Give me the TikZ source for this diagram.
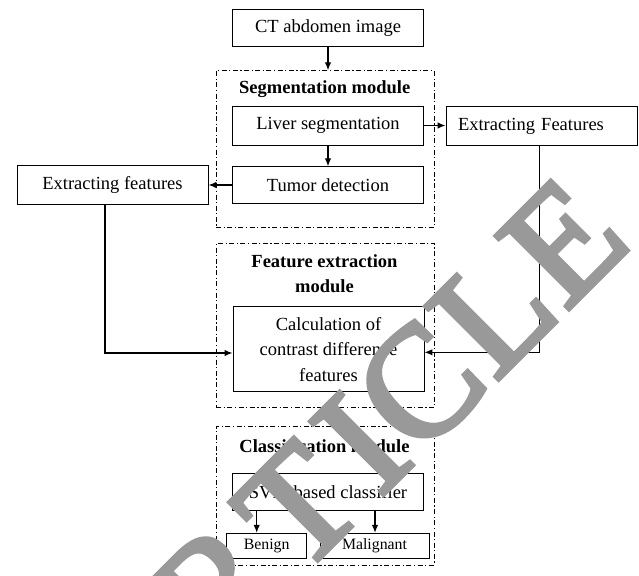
\documentclass[tikz,border=0pt]{standalone}
\usepackage{fontspec}
\setmainfont{Liberation Serif}
\newfontfamily\wmfont{Liberation Serif}[FakeBold=3]
\usepackage{tikz}
\usetikzlibrary{arrows.meta,positioning,calc}

\begin{document}
\begin{tikzpicture}[
  x=1pt, y=-1pt,
  every node/.style={font=\fontsize{18.5}{25.5}\selectfont},
  blk/.style={draw, line width=0.9pt, inner sep=2pt, minimum width=191pt, minimum height=37pt, align=center},
  small/.style={blk, minimum height=25pt, font=\fontsize{15.8}{19}\selectfont},
  modbox/.style={draw, line width=0.8pt, dash pattern=on 5pt off 2.5pt on 1.2pt off 2.5pt, minimum width=218pt},
  title/.style={font=\fontsize{18.5}{25}\selectfont\bfseries, align=center},
  arr/.style={-{Latex[length=8pt,width=6.5pt]}, line width=1.3pt},
  wmark/.style={font=\wmfont\fontsize{158}{158}\selectfont, text=black!40, inner sep=0pt}
]
\useasboundingbox (0,0) rectangle (639,575);

%% Input
\node[blk] (ct) at (328,28.3) {CT abdomen image};

%% Segmentation module
\node[modbox, minimum height=157pt] (segmod) at (325,149.2) {};
\node[title] (segtitle) at (324.7,89) {Segmentation module};
\node[blk, minimum height=39pt] (liver) at (328,125.5) {Liver segmentation};
\node[blk, minimum height=36.3pt] (tumor) at (328,185) {Tumor detection};
\node[blk, minimum height=39pt] (extl) at (112.5,184.5) {Extracting features};
\node[blk, minimum height=38.3pt, text width=167pt, inner xsep=12pt, align=left] (extr) at (541.5,126) {Extracting Features};
\draw[arr] (ct.south) -- (ct.south |- segmod.north);
\draw[arr] (liver.south) -- (tumor.north);
\draw[arr] (liver.east) -- (liver.east -| extr.west);
\draw[arr] (tumor.west) -- (tumor.west -| extl.east);

%% Feature extraction module
\node[modbox, minimum height=164.4pt] (featmod) at (325.2,325.5) {};
\node[title] (feattitle) at (324.5,274) {Feature extraction\\module};
\node[blk, minimum height=85pt] (calc) at (328.5,349.2) {Calculation of\\contrast difference\\features};
\coordinate (lcorner) at (105,353);
\coordinate (rcorner) at (539.3,352.3);
\draw[arr] (extl.south -| lcorner) -- (lcorner) -- (lcorner -| calc.west);
\draw[arr] (extr.south -| rcorner) -- (rcorner) -- (rcorner -| calc.east);

%% Classification module
\node[modbox, minimum height=138.3pt] (clsmod) at (325,495.8) {};
\node[title] (clstitle) at (324.5,446.5) {Classification module};
\node[blk, minimum height=36.7pt] (svm) at (328,491.7) {SVM based classifier};
\node[small, minimum width=80pt] (benign) at (266.7,545.8) {Benign};
\node[small, minimum width=109pt] (malig) at (374.5,545.8) {Malignant};
\draw[arr] (svm.south -| 256.7,0) -- (benign.north -| 256.7,0);
\draw[arr] (svm.south -| 375,0) -- (malig.north -| 375,0);

%% Watermark
\node[wmark, rotate=45, anchor=base east] (wm) at (634.3,243.7)
  {A\kern15pt R\kern15pt T\kern15pt I\kern3pt C\kern3pt L\kern3pt E};

\end{tikzpicture}
\end{document}
